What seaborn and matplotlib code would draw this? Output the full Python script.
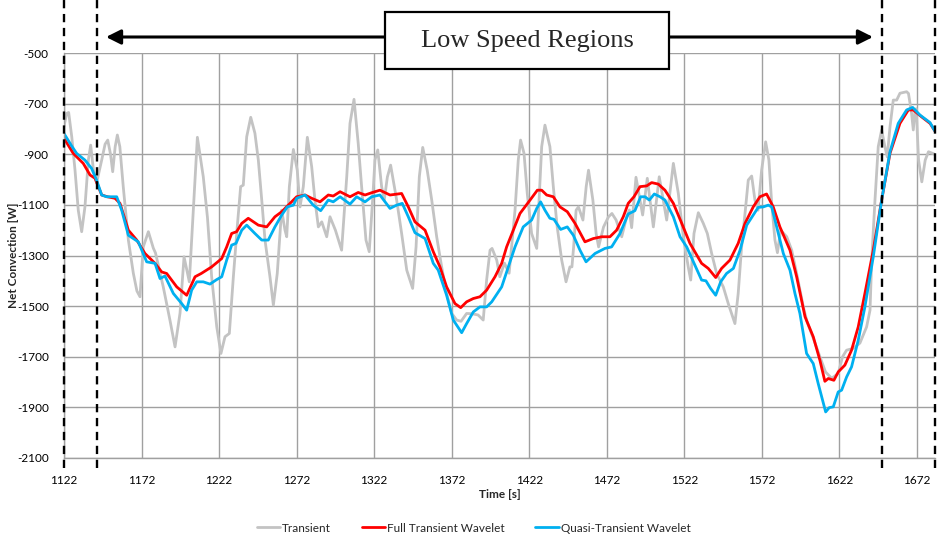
import matplotlib
matplotlib.use("Agg")
import matplotlib.pyplot as plt
from matplotlib.patches import Rectangle
import pandas as pd
import seaborn as sns

# ---- measured series ----
transient_t = [1122.0, 1123.7, 1125.0, 1127.0, 1129.1, 1131.2, 1133.4, 1135.5, 1137.7, 1139.2,
               1141.0, 1143.0, 1146.3, 1148.5, 1150.2, 1152.0, 1153.4, 1155.0, 1156.4, 1158.0,
               1160.2, 1163.5, 1166.7, 1169.0, 1171.0, 1173.1, 1176.4, 1179.6, 1181.0, 1186.0,
               1190.3, 1193.6, 1196.8, 1199.4, 1202.8, 1205.4, 1208.0, 1211.8, 1214.5, 1217.2,
               1220.5, 1223.2, 1225.8, 1228.6, 1231.2, 1233.7, 1235.9, 1237.6, 1239.8, 1242.4,
               1245.1, 1247.3, 1249.5, 1251.6, 1254.8, 1257.0, 1259.5, 1262.3, 1264.5, 1265.6,
               1267.3, 1269.9, 1272.4, 1274.2, 1276.3, 1278.9, 1281.7, 1283.8, 1286.0, 1288.2,
               1291.4, 1293.5, 1297.0, 1301.0, 1304.3, 1306.4, 1309.0, 1311.7, 1313.9, 1316.7,
               1318.8, 1321.0, 1322.5, 1324.3, 1326.8, 1328.5, 1330.5, 1332.6, 1336.5, 1339.7,
               1343.0, 1346.8, 1349.0, 1351.1, 1353.3, 1356.2, 1359.1, 1362.3, 1365.5, 1368.7,
               1372.0, 1375.2, 1378.0, 1381.6, 1385.0, 1389.0, 1392.3, 1394.5, 1396.7, 1398.0,
               1401.0, 1403.0, 1406.0, 1409.0, 1412.8, 1414.9, 1416.4, 1418.6, 1420.7, 1423.5,
               1426.8, 1428.5, 1430.0, 1432.1, 1435.3, 1437.5, 1440.0, 1442.9, 1445.7, 1448.2,
               1449.5, 1450.6, 1452.2, 1453.7, 1456.6, 1458.7, 1460.2, 1463.0, 1465.1, 1466.7,
               1469.9, 1473.1, 1475.3, 1478.0, 1481.6, 1484.8, 1486.5, 1488.0, 1490.8, 1495.1,
               1498.1, 1502.0, 1505.8, 1510.6, 1514.9, 1518.1, 1521.3, 1524.5, 1526.1, 1528.2,
               1531.0, 1534.2, 1536.8, 1539.6, 1542.8, 1547.1, 1550.3, 1554.6, 1556.7, 1558.9,
               1561.1, 1563.2, 1565.4, 1567.5, 1569.5, 1571.8, 1574.4, 1576.5, 1578.3, 1580.4,
               1582.0, 1584.1, 1588.0, 1591.2, 1594.4, 1598.7, 1601.0, 1605.0, 1609.4, 1613.0,
               1617.0, 1621.2, 1624.0, 1626.6, 1630.9, 1635.2, 1639.5, 1641.7, 1642.8, 1644.9,
               1647.0, 1649.2, 1651.3, 1652.8, 1654.6, 1656.7, 1658.9, 1661.0, 1665.3, 1666.5,
               1668.5, 1669.6, 1670.7, 1671.5, 1673.0, 1675.1, 1677.3, 1679.4, 1683.5]
transient_w = [-790, -739, -735, -831, -963, -1121, -1206, -1108, -923, -864,
               -963, -1014, -923, -860, -844, -900, -969, -870, -824, -870,
               -1028, -1239, -1370, -1440, -1463, -1266, -1206, -1271, -1290, -1424,
               -1555, -1661, -1528, -1305, -1404, -1121, -833, -989, -1150, -1384,
               -1582, -1687, -1621, -1608, -1384, -1187, -1028, -1022, -831, -754,
               -817, -923, -1081, -1239, -1384, -1496, -1371, -1121, -1200, -1226,
               -1028, -881, -963, -1108, -1028, -833, -949, -1081, -1187, -1167,
               -1226, -1147, -1200, -1279, -989, -778, -683, -857, -1028, -1239,
               -1285, -1081, -923, -883, -1028, -1081, -990, -943, -1081, -1213,
               -1358, -1430, -1266, -989, -873, -963, -1081, -1226, -1345, -1450,
               -1529, -1555, -1560, -1529, -1530, -1535, -1555, -1397, -1279, -1272,
               -1318, -1384, -1330, -1370, -1121, -923, -844, -896, -1055, -1213,
               -1272, -1055, -870, -785, -870, -1028, -1187, -1318, -1404, -1345,
               -1345, -1266, -1121, -1108, -1160, -1028, -963, -1081, -1213, -1266,
               -1187, -1147, -1134, -1160, -1226, -1147, -1120, -1190, -991, -1140,
               -995, -1187, -989, -1160, -936, -1055, -1226, -1345, -1397, -1213,
               -1131, -1173, -1213, -1292, -1371, -1424, -1490, -1569, -1450, -1266,
               -1134, -1002, -986, -1081, -1121, -963, -851, -923, -1094, -1239,
               -1289, -1200, -1226, -1279, -1371, -1503, -1560, -1625, -1700, -1760,
               -1785, -1766, -1700, -1674, -1667, -1646, -1582, -1516, -1318, -1081,
               -870, -804, -870, -910, -791, -686, -686, -659, -653, -660,
               -738, -804, -725, -720, -923, -1009, -923, -890, -900]

full_t = [1122.0, 1128.0, 1134.4, 1138.8, 1142.0, 1146.3, 1150.0, 1154.9, 1158.1, 1163.5,
          1168.9, 1174.2, 1180.7, 1185.0, 1188.2, 1194.7, 1201.1, 1206.5, 1210.5, 1217.2,
          1223.7, 1226.9, 1230.1, 1233.3, 1236.6, 1240.8, 1247.3, 1252.7, 1258.0, 1262.4,
          1266.6, 1272.0, 1277.4, 1281.7, 1287.1, 1292.4, 1295.6, 1300.0, 1306.4, 1311.7,
          1316.1, 1320.4, 1325.7, 1332.2, 1339.7, 1344.0, 1348.3, 1354.8, 1360.1, 1364.4,
          1368.7, 1374.1, 1377.8, 1381.6, 1385.9, 1390.2, 1394.5, 1399.9, 1404.2, 1407.4,
          1411.7, 1416.0, 1422.5, 1427.2, 1430.0, 1433.2, 1437.5, 1441.8, 1446.5, 1451.5,
          1457.9, 1463.3, 1468.7, 1474.0, 1478.3, 1482.6, 1485.8, 1489.5, 1493.4, 1497.7,
          1500.9, 1505.2, 1509.5, 1514.9, 1520.3, 1525.6, 1533.1, 1537.4, 1542.2, 1546.0,
          1551.4, 1556.7, 1561.1, 1566.4, 1570.7, 1575.0, 1579.3, 1583.6, 1590.1, 1594.4,
          1599.8, 1605.1, 1609.4, 1612.6, 1614.8, 1618.4, 1621.2, 1625.5, 1629.8, 1634.1,
          1638.4, 1643.8, 1649.2, 1654.6, 1661.0, 1666.4, 1669.6, 1674.9, 1680.4, 1683.5]
full_w = [-837, -897, -936, -982, -995, -1061, -1068, -1074, -1094, -1200,
          -1239, -1292, -1331, -1365, -1371, -1424, -1457, -1384, -1371, -1345,
          -1312, -1266, -1213, -1206, -1173, -1153, -1180, -1187, -1147, -1127,
          -1101, -1068, -1061, -1074, -1088, -1061, -1065, -1048, -1068, -1051,
          -1061, -1052, -1042, -1061, -1055, -1108, -1167, -1200, -1285, -1345,
          -1424, -1490, -1506, -1483, -1470, -1463, -1437, -1384, -1331, -1266,
          -1200, -1134, -1081, -1042, -1042, -1061, -1068, -1108, -1127, -1173,
          -1246, -1233, -1226, -1226, -1200, -1147, -1094, -1068, -1028, -1025,
          -1012, -1018, -1042, -1094, -1173, -1252, -1331, -1351, -1387, -1351,
          -1318, -1252, -1173, -1108, -1068, -1057, -1108, -1187, -1279, -1384,
          -1542, -1621, -1714, -1797, -1786, -1793, -1760, -1733, -1674, -1582,
          -1450, -1279, -1081, -896, -778, -725, -725, -752, -778, -808]

quasi_t = [1122.0, 1127.0, 1130.2, 1135.5, 1139.8, 1143.0, 1146.3, 1149.5, 1156.0, 1159.2,
           1163.5, 1169.9, 1175.3, 1180.7, 1183.9, 1187.1, 1192.5, 1197.9, 1201.1, 1204.3,
           1207.6, 1211.8, 1216.1, 1220.5, 1223.7, 1226.9, 1230.1, 1232.9, 1236.6, 1239.8,
           1245.1, 1249.5, 1253.7, 1258.0, 1262.4, 1266.0, 1269.9, 1272.0, 1277.4, 1282.7,
           1287.5, 1292.4, 1295.6, 1300.0, 1306.4, 1310.7, 1316.1, 1320.4, 1325.7, 1332.2,
           1336.5, 1340.1, 1344.0, 1348.3, 1354.8, 1360.1, 1363.3, 1368.7, 1373.0, 1378.4,
           1381.6, 1385.9, 1390.2, 1394.5, 1397.8, 1404.2, 1408.5, 1412.8, 1418.1, 1423.5,
           1426.8, 1429.3, 1432.1, 1435.3, 1437.9, 1442.2, 1446.5, 1450.4, 1454.7, 1458.6,
           1464.4, 1470.8, 1475.1, 1480.5, 1485.8, 1490.1, 1493.8, 1496.6, 1499.4, 1502.6,
           1506.3, 1509.5, 1514.9, 1519.2, 1523.5, 1527.8, 1533.1, 1535.9, 1538.9, 1542.2,
           1545.4, 1549.2, 1553.6, 1557.9, 1562.2, 1566.4, 1569.6, 1572.9, 1576.1, 1578.3,
           1581.5, 1585.8, 1590.1, 1593.3, 1596.5, 1600.8, 1605.1, 1608.3, 1613.1, 1615.4,
           1618.0, 1621.2, 1623.4, 1626.6, 1629.8, 1634.1, 1638.4, 1643.8, 1649.2, 1654.6,
           1659.9, 1665.3, 1669.2, 1673.9, 1680.4, 1683.5]
quasi_w = [-818, -868, -897, -923, -956, -1002, -1061, -1068, -1068, -1121,
           -1220, -1246, -1325, -1331, -1391, -1381, -1450, -1490, -1516, -1437,
           -1404, -1404, -1413, -1395, -1384, -1318, -1259, -1252, -1200, -1180,
           -1213, -1239, -1239, -1187, -1140, -1108, -1101, -1074, -1061, -1101,
           -1123, -1081, -1088, -1068, -1097, -1068, -1088, -1068, -1061, -1114,
           -1101, -1094, -1147, -1210, -1233, -1331, -1358, -1457, -1555, -1605,
           -1569, -1523, -1503, -1503, -1483, -1424, -1345, -1266, -1187, -1160,
           -1114, -1088, -1121, -1153, -1157, -1197, -1187, -1220, -1279, -1325,
           -1292, -1272, -1266, -1213, -1136, -1123, -1068, -1068, -1081, -1057,
           -1068, -1081, -1147, -1226, -1266, -1325, -1397, -1400, -1430, -1457,
           -1404, -1371, -1351, -1279, -1180, -1140, -1110, -1108, -1101, -1108,
           -1187, -1292, -1358, -1450, -1529, -1687, -1727, -1806, -1918, -1901,
           -1898, -1839, -1832, -1780, -1740, -1635, -1503, -1305, -1081, -890,
           -778, -725, -715, -745, -775, -808]

x_ticks = [1122, 1172, 1222, 1272, 1322, 1372, 1422, 1472, 1522, 1572, 1622, 1672]
y_ticks = [-2100, -1900, -1700, -1500, -1300, -1100, -900, -700, -500]
region_bounds = [1122, 1143, 1649.5, 1683.6]

series = [("Transient", transient_t, transient_w, "#c3c3c3"),
          ("Full Transient Wavelet", full_t, full_w, "#ff0000"),
          ("Quasi-Transient Wavelet", quasi_t, quasi_w, "#00b0f0")]

sns.set_style("white")
plt.rcParams["font.family"] = ["Lato", "DejaVu Sans"]

W, H = 938, 540
fig = plt.figure(figsize=(W / 100, H / 100), dpi=100)
ax = fig.add_axes([64 / W, 82 / H, 871 / W, 405 / H])

for name, t, w, color in series:
    df = pd.DataFrame({"Time": t, "Net": w})
    sns.lineplot(data=df, x="Time", y="Net", ax=ax, color=color, lw=2.0,
                 label=name, sort=False, estimator=None)

ax.set_xlim(1122, 1683.6)
ax.set_ylim(-2100, -500)
ax.set_xticks(x_ticks)
ax.set_yticks(y_ticks)
ax.set_xticklabels([str(v) for v in x_ticks])
ax.set_yticklabels([str(v) for v in y_ticks])
ax.grid(True, color="#a0a0a0", lw=1.0)
ax.set_axisbelow(True)
for s in ["top", "right"]:
    ax.spines[s].set_visible(False)
for s in ["left", "bottom"]:
    ax.spines[s].set_color("#a0a0a0")
    ax.spines[s].set_linewidth(1.0)
ax.tick_params(axis="y", length=3, color="#808080", labelsize=8.5, pad=8, colors="#000000")
ax.tick_params(axis="x", length=0, labelsize=8.5, pad=12, colors="#000000")

ax.set_xlabel("Time [s]", fontsize=8.5, fontweight="bold")
ax.set_ylabel("Net Convection [W]", fontsize=8.5, fontweight="bold")
ax.xaxis.set_label_coords(0.5, -0.077)
ax.yaxis.set_label_coords(-0.052, 0.5)

# region boundaries
for b in region_bounds:
    ax.axvline(b, ymin=-0.025, ymax=1.14, clip_on=False, color="black",
               lw=1.7, ls=(0, (3.5, 2.4)), zorder=6)

# double arrow and labelled box
ax.annotate("", xy=(873, H - 37), xytext=(106, H - 37), xycoords="figure pixels",
            textcoords="figure pixels",
            arrowprops=dict(arrowstyle="<|-|>", lw=2.2, color="black",
                            mutation_scale=22, shrinkA=0, shrinkB=0))
box = Rectangle((385 / W, 1 - 69 / H), 284 / W, 57 / H, transform=fig.transFigure,
                facecolor="white", edgecolor="black", lw=1.6, zorder=5)
fig.add_artist(box)
fig.text(527 / W, 1 - 41 / H, "Low Speed Regions", ha="center", va="center",
         family="Liberation Serif", fontsize=19, zorder=6)

handles, labels = ax.get_legend_handles_labels()
ax.legend_.remove()
fig.legend(handles, labels, loc="center", bbox_to_anchor=(0.505, 1 - 528 / H),
           ncol=3, frameon=False, fontsize=8.5, handlelength=2.0, handletextpad=0.15,
           columnspacing=2.6)

fig.savefig("out.png", dpi=100)
